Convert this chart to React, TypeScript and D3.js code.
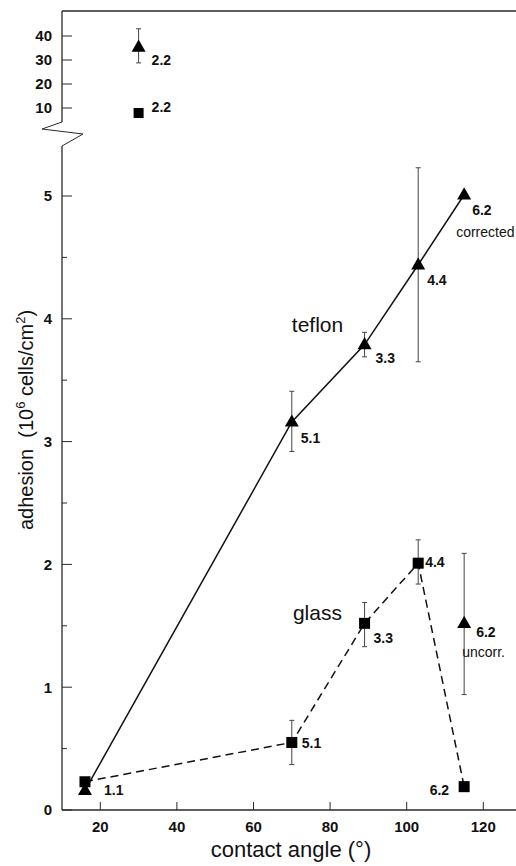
import * as d3 from 'd3'

// contact angles (deg) of the five substrates
const angles = [16, 70, 89, 103, 115]
const pointLabels = ['1.1', '5.1', '3.3', '4.4', '6.2']

// adhesion, 10^6 cells/cm^2
const teflon = [0.16, 3.16, 3.79, 4.44, 5.01]
const teflonLo = [null, 2.92, 3.69, 3.65, null]
const teflonHi = [null, 3.41, 3.89, 5.23, null]

const glass = [0.23, 0.55, 1.52, 2.01, 0.19]
const glassLo = [null, 0.37, 1.33, 1.84, null]
const glassHi = [null, 0.73, 1.69, 2.2, null]

// teflon at 6.2, uncorrected
const uncorrAngle = 115
const uncorr = 1.52
const uncorrLo = 0.94
const uncorrHi = 2.09

// the 2.2 substrate, drawn on the upper (broken) scale
const topAngle = 30
const topTeflon = 35.4
const topTeflonLo = 28.8
const topTeflonHi = 43
const topGlass = 7.9
const topGlassLo = 6.6
const topGlassHi = 9.2

const xTicks = [20, 40, 60, 80, 100, 120]
const yTicks = [0, 1, 2, 3, 4, 5]
const yMinor = [0.5, 1.5, 2.5, 3.5, 4.5]
const yTopTicks = [10, 20, 30, 40]

const FONT = '"Liberation Sans", Arial, Helvetica, sans-serif'
const AX = '#2a2a2a'

const x = d3.scaleLinear().domain([10, 130]).range([62, 521.6])
const y = d3.scaleLinear().domain([0, 5]).range([810, 196])
const yTop = d3.scaleLinear().domain([0, 50]).range([132, 12])

const lowTop = 146
const highBottom = 122

function tri(cx: number, cy: number, s = 14) {
  const h = s * 0.87
  return `M${cx},${cy - h * 0.62}L${cx + s / 2},${cy + h * 0.38}L${cx - s / 2},${cy + h * 0.38}Z`
}

function ErrBar({ cx, y1, y2 }: { cx: number; y1: number; y2: number }) {
  return (
    <g stroke="#444" strokeWidth={1} fill="none">
      <line x1={cx} x2={cx} y1={y1} y2={y2} />
      <line x1={cx - 2.5} x2={cx + 2.5} y1={y1} y2={y1} />
      <line x1={cx - 2.5} x2={cx + 2.5} y1={y2} y2={y2} />
    </g>
  )
}

export default function App() {
  const line = d3.line<number>().x((_, i) => x(angles[i])).y(d => y(d))

  // label offsets (px) next to each marker
  const tefOff = [null, [9, 21], [11, 18], [9, 20], [8, 20]]
  const glassOff = [[19, 13], [10, 6], [9, 20], [7, 4], [-15, 8]]

  const lbl = { fontFamily: FONT, fontSize: 14, fontWeight: 700, fill: '#111' }
  const note = { fontFamily: FONT, fontSize: 14, fill: '#111' }

  return (
    <svg width={516} height={866} style={{ position: 'absolute', left: 0, top: 0, background: '#fff' }}>
      {/* frame */}
      <g stroke={AX} strokeWidth={1.3} fill="none">
        <line x1={x(10)} x2={516} y1={11} y2={11} />
        <line x1={x(10)} x2={516} y1={y(0)} y2={y(0)} />
        <line x1={x(10)} x2={x(10)} y1={y(0)} y2={lowTop} />
        <line x1={x(10)} x2={x(10)} y1={highBottom} y2={11} />
        <polyline points={`${x(10)},${lowTop} ${x(10) + 21},${lowTop - 12} ${x(10) - 20},${lowTop - 17} ${x(10)},${highBottom}`} strokeWidth={1} />
        {xTicks.map(t => <line key={t} x1={x(t)} x2={x(t)} y1={y(0)} y2={y(0) - 8} strokeWidth={1} />)}
        {yTicks.map(t => <line key={t} x1={x(10)} x2={x(10) + 10} y1={y(t)} y2={y(t)} strokeWidth={1} />)}
        {yMinor.map(t => <line key={t} x1={x(10)} x2={x(10) + 5} y1={y(t)} y2={y(t)} strokeWidth={1} />)}
        {yTopTicks.map(t => <line key={t} x1={x(10)} x2={x(10) + 10} y1={yTop(t)} y2={yTop(t)} strokeWidth={1} />)}
      </g>

      {/* tick labels */}
      <g fontFamily={FONT} fontSize={15} fontWeight={700} fill="#111">
        {xTicks.map(t => <text key={t} x={x(t)} y={832} textAnchor="middle">{t}</text>)}
        {yTicks.map(t => <text key={t} x={52} y={y(t)} dy="0.36em" textAnchor="end">{t}</text>)}
        {yTopTicks.map(t => <text key={t} x={52} y={yTop(t)} dy="0.36em" textAnchor="end">{t}</text>)}
      </g>

      {/* axis titles */}
      <text x={291} y={857} textAnchor="middle" fontFamily={FONT} fontSize={22} fill="#111">contact angle (°)</text>
      <text transform="translate(33,420) rotate(-90)" textAnchor="middle" fontFamily={FONT} fontSize={20} fill="#111">
        adhesion{'\u00a0 '}(10<tspan dy={-8} fontSize={13}>6</tspan><tspan dy={8}> cells/cm</tspan><tspan dy={-8} fontSize={13}>2</tspan><tspan dy={8}>)</tspan>
      </text>

      {/* error bars */}
      {angles.map((a, i) => teflonLo[i] != null && (
        <ErrBar key={'te' + i} cx={x(a)} y1={y(teflonHi[i] as number)} y2={y(teflonLo[i] as number)} />
      ))}
      {angles.map((a, i) => glassLo[i] != null && (
        <ErrBar key={'ge' + i} cx={x(a)} y1={y(glassHi[i] as number)} y2={y(glassLo[i] as number)} />
      ))}
      <ErrBar cx={x(uncorrAngle)} y1={y(uncorrHi)} y2={y(uncorrLo)} />
      <ErrBar cx={x(topAngle)} y1={yTop(topTeflonHi)} y2={yTop(topTeflonLo)} />
      <ErrBar cx={x(topAngle)} y1={yTop(topGlassHi)} y2={yTop(topGlassLo)} />

      {/* series lines */}
      <path d={line(teflon) ?? ''} fill="none" stroke="#111" strokeWidth={1.5} />
      <path d={line(glass) ?? ''} fill="none" stroke="#111" strokeWidth={1.5} strokeDasharray="8,5" />

      {/* markers */}
      {angles.map((a, i) => <path key={'tm' + i} d={tri(x(a), y(teflon[i]))} fill="#000" />)}
      {angles.map((a, i) => <rect key={'gm' + i} x={x(a) - 5.5} y={y(glass[i]) - 5.5} width={11} height={11} fill="#000" />)}
      <path d={tri(x(uncorrAngle), y(uncorr))} fill="#000" />
      <path d={tri(x(topAngle), yTop(topTeflon))} fill="#000" />
      <rect x={x(topAngle) - 5} y={yTop(topGlass) - 5} width={10} height={10} fill="#000" />

      {/* point labels */}
      {angles.map((a, i) => {
        const o = tefOff[i]
        if (!o) return null
        return <text key={'tl' + i} x={x(a) + o[0]} y={y(teflon[i]) + o[1]} {...lbl}>{pointLabels[i]}</text>
      })}
      {angles.map((a, i) => {
        const o = glassOff[i]
        return (
          <text key={'gl' + i} x={x(a) + o[0]} y={y(glass[i]) + o[1]} textAnchor={o[0] < 0 ? 'end' : 'start'} {...lbl}>
            {pointLabels[i]}
          </text>
        )
      })}
      <text x={x(angles[4]) - 8} y={y(teflon[4]) + 42} {...note}>corrected</text>
      <text x={x(uncorrAngle) + 12} y={y(uncorr) + 14} {...lbl}>6.2</text>
      <text x={x(uncorrAngle) - 2} y={y(uncorr) + 34} {...note}>uncorr.</text>
      <text x={x(topAngle) + 13} y={yTop(topTeflon) + 18} {...lbl}>2.2</text>
      <text x={x(topAngle) + 13} y={yTop(topGlass) - 1} {...lbl}>2.2</text>

      {/* series names */}
      <text x={x(70)} y={y(3.89)} fontFamily={FONT} fontSize={21} fill="#111">teflon</text>
      <text x={x(70.3)} y={y(1.55)} fontFamily={FONT} fontSize={21} fill="#111">glass</text>
    </svg>
  )
}
